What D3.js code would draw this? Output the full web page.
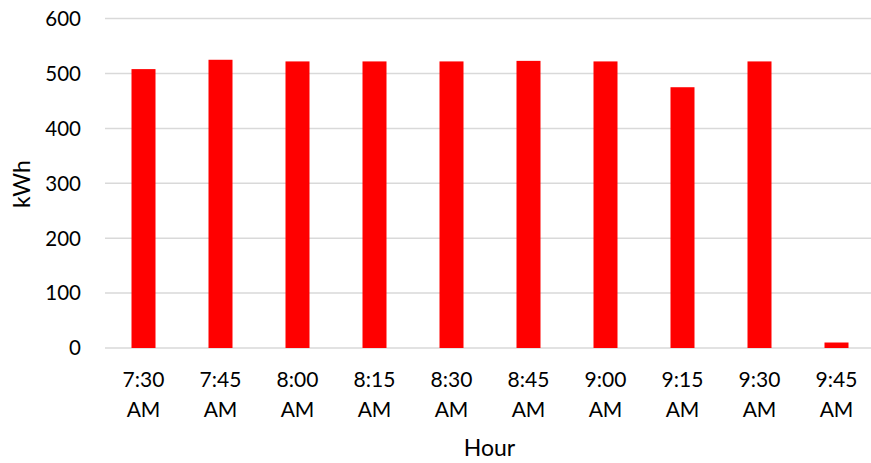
<!DOCTYPE html>
<meta charset="utf-8">
<style>
body { margin: 0; background: #fff; }
text { font-family: Lato, "Open Sans", sans-serif; fill: #000; }
.grid line { stroke: #d9d9d9; stroke-width: 1.5; }
</style>
<body>
<svg id="chart" width="871" height="463"></svg>
<script src="https://cdn.jsdelivr.net/npm/d3@7"></script>
<script>

var hours = ["7:30 AM", "7:45 AM", "8:00 AM", "8:15 AM", "8:30 AM",
  "8:45 AM", "9:00 AM", "9:15 AM", "9:30 AM", "9:45 AM"];
var kwh = [508, 525, 522, 522, 522, 523, 522, 475, 522, 10];
var yTicks = [0, 100, 200, 300, 400, 500, 600];

var svg = d3.select("#chart");

var x = d3.scaleBand()
  .domain(hours)
  .range([105, 875])
  .padding(0);

var y = d3.scaleLinear()
  .domain([0, 600])
  .range([348, 18.6]);

// gridlines
svg.append("g")
  .attr("class", "grid")
  .selectAll("line")
  .data(yTicks)
  .enter().append("line")
  .attr("x1", 105)
  .attr("x2", 875)
  .attr("y1", function(d) { return y(d); })
  .attr("y2", function(d) { return y(d); });

// y tick labels
svg.append("g")
  .selectAll("text")
  .data(yTicks)
  .enter().append("text")
  .attr("x", 81)
  .attr("y", function(d) { return y(d); })
  .attr("dy", "0.36em")
  .attr("text-anchor", "end")
  .style("font-size", "20.5px")
  .text(function(d) { return d; });

// bars
var barW = 24;
svg.append("g")
  .selectAll("rect")
  .data(kwh)
  .enter().append("rect")
  .attr("x", function(d, i) { return x(hours[i]) + x.bandwidth() / 2 - barW / 2; })
  .attr("y", function(d) { return y(d); })
  .attr("width", barW)
  .attr("height", function(d) { return y(0) - y(d); })
  .attr("fill", "#ff0000");

// x labels, two lines
var xl = svg.append("g")
  .selectAll("text")
  .data(hours)
  .enter().append("text")
  .attr("text-anchor", "middle")
  .style("font-size", "21px");
xl.each(function(d) {
  var parts = d.split(" ");
  var t = d3.select(this);
  var cx = x(d) + x.bandwidth() / 2;
  t.append("tspan").attr("x", cx).attr("y", 386.5).text(parts[0]);
  t.append("tspan").attr("x", cx).attr("y", 416.5).text(parts[1]);
});

// axis titles
svg.append("text")
  .attr("x", 489.5)
  .attr("y", 456)
  .attr("text-anchor", "middle")
  .style("font-size", "23px")
  .text("Hour");

svg.append("text")
  .attr("transform", "translate(30,184) rotate(-90)")
  .attr("text-anchor", "middle")
  .style("font-size", "23px")
  .text("kWh");

</script>
</body>
